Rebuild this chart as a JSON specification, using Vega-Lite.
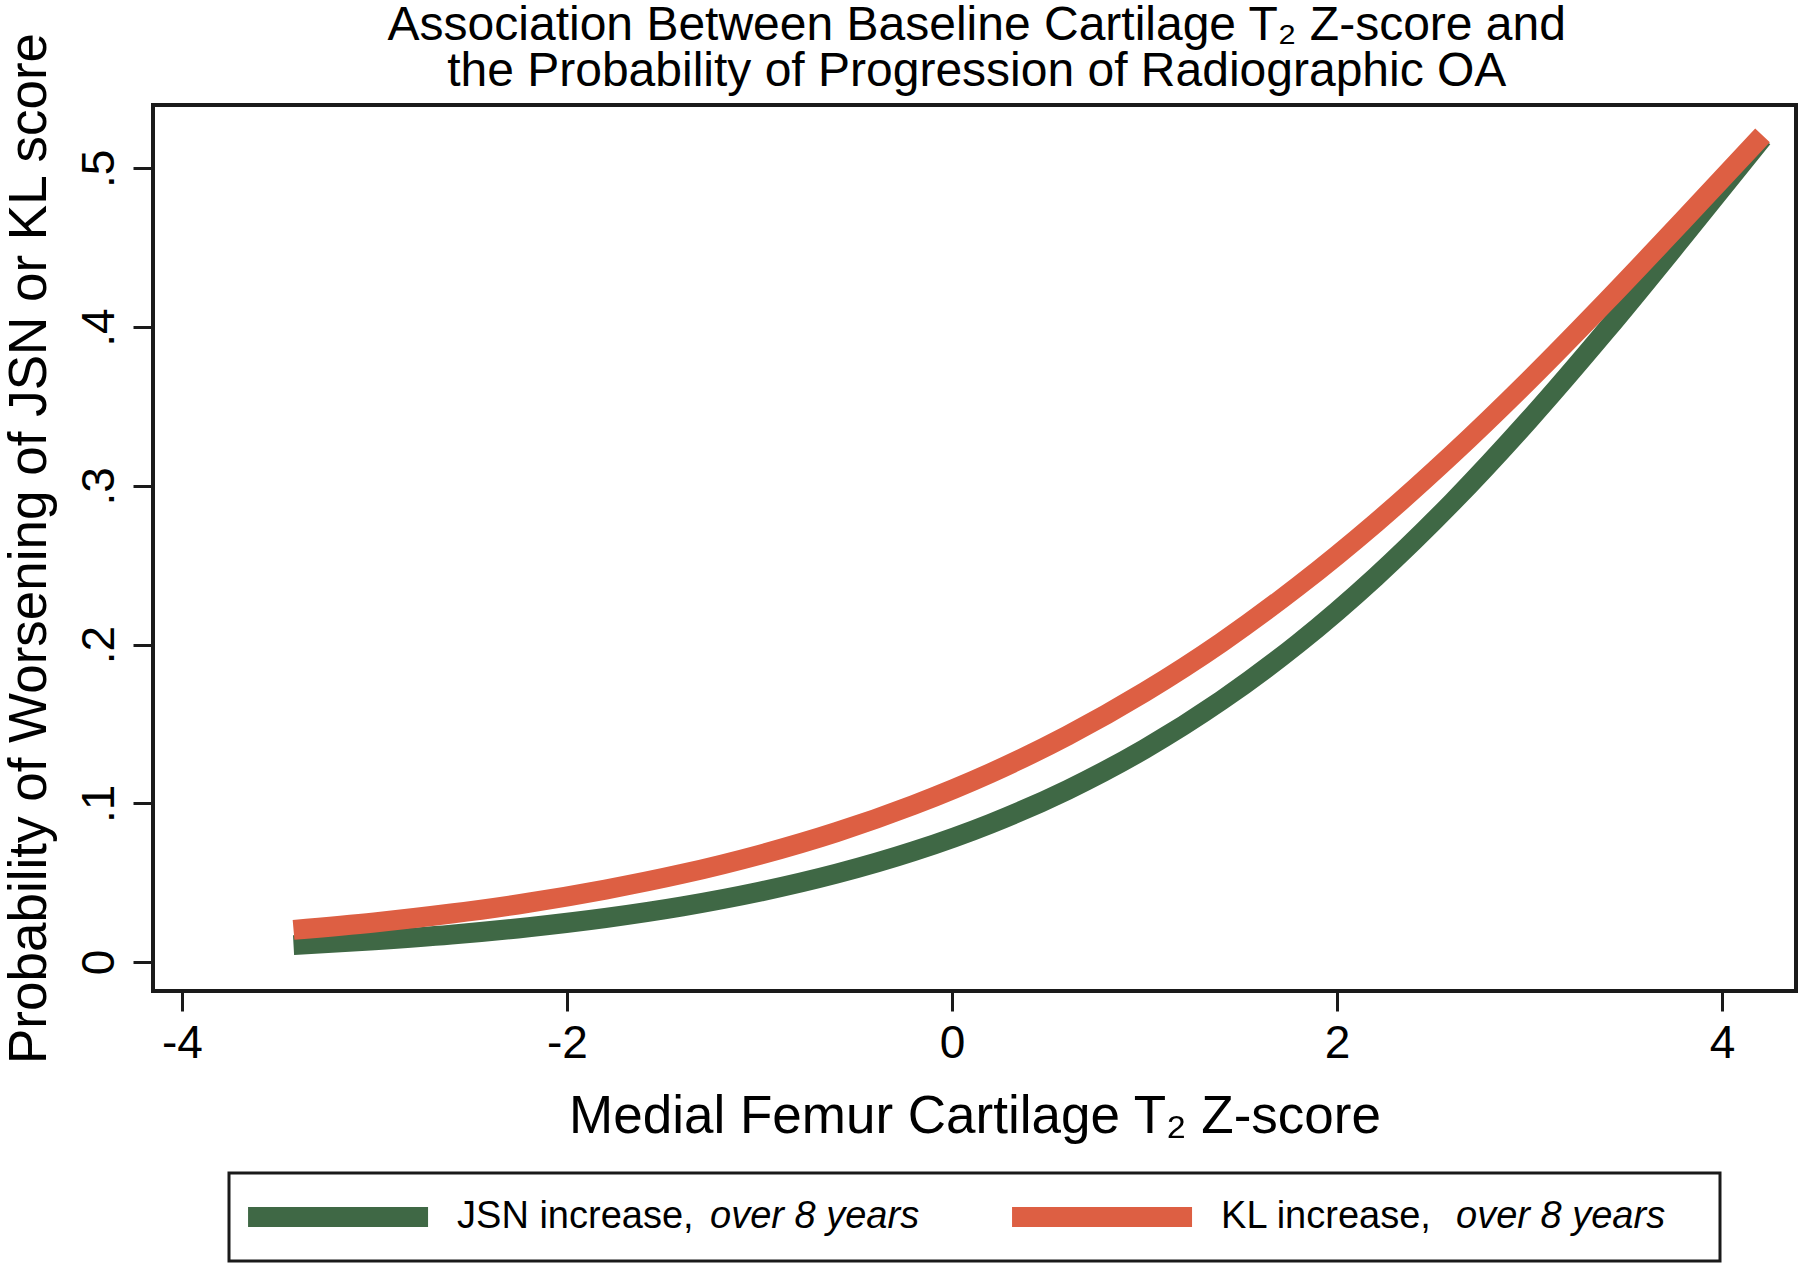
{
  "$schema": "https://vega.github.io/schema/vega-lite/v6.json",
  "padding": {"left": 0, "top": 1, "right": 0, "bottom": 0},
  "background": "white",
  "config": {"font": "Liberation Sans"},
  "title": {
    "text": ["Association Between Baseline Cartilage T₂ Z-score and", "the Probability of Progression of Radiographic OA"],
    "fontSize": 48, "lineHeight": 46, "fontWeight": "normal", "color": "black",
    "anchor": "middle", "offset": -66, "dx": 74
  },
  "bounds": "flush",
  "center": true,
  "spacing": 182,
  "vconcat": [
    {
      "width": 1643,
      "height": 886,
      "view": {"stroke": "#1a1a1a", "strokeWidth": 4},
      "data": {
        "values": [
          {"series": "JSN", "z": -3.42, "p": 0.0106},
          {"series": "JSN", "z": -3.0, "p": 0.0136},
          {"series": "JSN", "z": -2.6, "p": 0.0172},
          {"series": "JSN", "z": -2.2, "p": 0.0219},
          {"series": "JSN", "z": -1.8, "p": 0.0277},
          {"series": "JSN", "z": -1.4, "p": 0.0350},
          {"series": "JSN", "z": -1.0, "p": 0.0442},
          {"series": "JSN", "z": -0.6, "p": 0.0556},
          {"series": "JSN", "z": -0.2, "p": 0.0697},
          {"series": "JSN", "z": 0.2, "p": 0.0871},
          {"series": "JSN", "z": 0.6, "p": 0.1084},
          {"series": "JSN", "z": 1.0, "p": 0.1341},
          {"series": "JSN", "z": 1.4, "p": 0.1648},
          {"series": "JSN", "z": 1.8, "p": 0.2008},
          {"series": "JSN", "z": 2.2, "p": 0.2425},
          {"series": "JSN", "z": 2.6, "p": 0.2897},
          {"series": "JSN", "z": 3.0, "p": 0.3419},
          {"series": "JSN", "z": 3.4, "p": 0.3982},
          {"series": "JSN", "z": 3.8, "p": 0.4574},
          {"series": "JSN", "z": 4.21, "p": 0.5192},
          {"series": "KL", "z": -3.42, "p": 0.0202},
          {"series": "KL", "z": -3.0, "p": 0.0249},
          {"series": "KL", "z": -2.6, "p": 0.0305},
          {"series": "KL", "z": -2.2, "p": 0.0373},
          {"series": "KL", "z": -1.8, "p": 0.0456},
          {"series": "KL", "z": -1.4, "p": 0.0555},
          {"series": "KL", "z": -1.0, "p": 0.0675},
          {"series": "KL", "z": -0.6, "p": 0.0818},
          {"series": "KL", "z": -0.2, "p": 0.0989},
          {"series": "KL", "z": 0.2, "p": 0.1190},
          {"series": "KL", "z": 0.6, "p": 0.1426},
          {"series": "KL", "z": 1.0, "p": 0.1700},
          {"series": "KL", "z": 1.4, "p": 0.2013},
          {"series": "KL", "z": 1.8, "p": 0.2369},
          {"series": "KL", "z": 2.2, "p": 0.2765},
          {"series": "KL", "z": 2.6, "p": 0.3200},
          {"series": "KL", "z": 3.0, "p": 0.3668},
          {"series": "KL", "z": 3.4, "p": 0.4163},
          {"series": "KL", "z": 3.8, "p": 0.4675},
          {"series": "KL", "z": 4.21, "p": 0.5208}
        ]
      },
      "mark": {"type": "line", "strokeWidth": 20, "interpolate": "monotone", "strokeCap": "butt"},
      "encoding": {
        "x": {
          "field": "z", "type": "quantitative",
          "scale": {"domain": [-4.150, 4.384], "nice": false, "zero": false},
          "axis": {
            "values": [-4, -2, 0, 2, 4],
            "labelExpr": "datum.value + ''",
            "title": "Medial Femur Cartilage T₂ Z-score",
            "titleFontSize": 53, "titleFontWeight": "normal", "titleColor": "black",
            "labelFontSize": 46, "labelColor": "black", "labelFlush": false,
            "tickSize": 20, "tickWidth": 3, "tickColor": "#1a1a1a",
            "domain": false, "grid": false,
            "labelPadding": 10, "titlePadding": 24
          }
        },
        "y": {
          "field": "p", "type": "quantitative",
          "scale": {"domain": [-0.0183, 0.5399], "nice": false, "zero": false},
          "axis": {
            "values": [0, 0.1, 0.2, 0.3, 0.4, 0.5],
            "labelExpr": "datum.value == 0 ? '0' : replace(format(datum.value, '.1f'), '0.', '.')",
            "labelAngle": -90, "labelAlign": "center", "labelBaseline": "alphabetic",
            "title": "Probability of Worsening of JSN or KL score",
            "titleFontSize": 53, "titleFontWeight": "normal", "titleColor": "black",
            "labelFontSize": 46, "labelColor": "black", "labelFlush": false,
            "tickSize": 20, "tickWidth": 3, "tickColor": "#1a1a1a",
            "domain": false, "grid": false,
            "labelPadding": 20, "titlePadding": 20
          }
        },
        "color": {
          "field": "series", "type": "nominal",
          "scale": {"domain": ["JSN", "KL"], "range": ["#3f6845", "#dd5f43"]},
          "legend": null
        }
      }
    },
    {
      "width": 1491,
      "height": 88,
      "view": {"stroke": "#1a1a1a", "strokeWidth": 3},
      "data": {
        "values": [
          {"series": "JSN", "label": "JSN increase,", "note": "over 8 years"},
          {"series": "KL", "label": "KL increase,", "note": "over 8 years"}
        ]
      },
      "encoding": {
        "x": {
          "field": "series", "type": "nominal",
          "scale": {"type": "point", "domain": ["JSN", "KL"], "padding": 0.4758, "align": 0.15},
          "axis": null
        }
      },
      "layer": [
        {
          "mark": {"type": "point", "shape": "M-1,-0.111H1V0.111H-1Z", "size": 32400, "filled": true, "opacity": 1, "strokeWidth": 0},
          "encoding": {
            "color": {
              "field": "series", "type": "nominal",
              "scale": {"domain": ["JSN", "KL"], "range": ["#3f6845", "#dd5f43"]},
              "legend": null
            }
          }
        },
        {
          "mark": {"type": "text", "align": "left", "baseline": "middle", "dx": 119, "fontSize": 38, "color": "black"},
          "encoding": {"text": {"field": "label"}}
        },
        {
          "transform": [{"filter": "datum.series == 'JSN'"}],
          "mark": {"type": "text", "align": "left", "baseline": "middle", "dx": 372, "fontSize": 38, "fontStyle": "italic", "color": "black"},
          "encoding": {"text": {"field": "note"}}
        },
        {
          "transform": [{"filter": "datum.series == 'KL'"}],
          "mark": {"type": "text", "align": "left", "baseline": "middle", "dx": 354, "fontSize": 38, "fontStyle": "italic", "color": "black"},
          "encoding": {"text": {"field": "note"}}
        }
      ]
    }
  ]
}
